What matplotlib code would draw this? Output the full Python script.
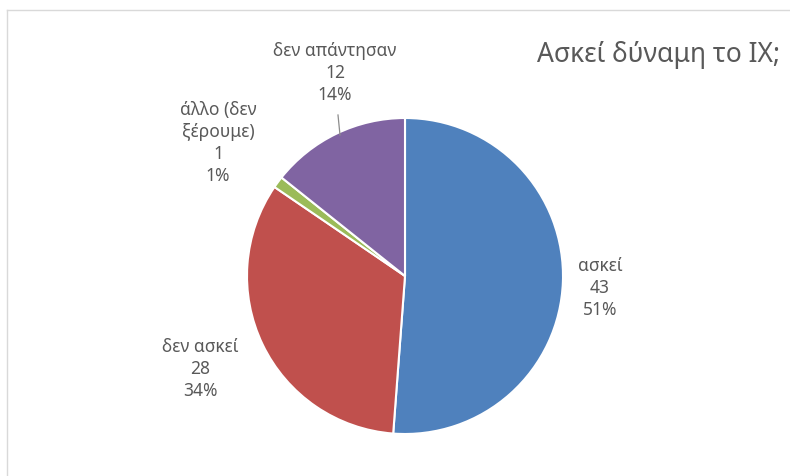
import matplotlib
matplotlib.use("Agg")
import matplotlib.pyplot as plt
from matplotlib.lines import Line2D

plt.rcParams['font.family'] = ['Noto Sans', 'DejaVu Sans']

# Data
categories = ["ασκεί", "δεν ασκεί", "άλλο (δεν\nξέρουμε)", "δεν απάντησαν"]
values = [43, 28, 1, 12]
percents = [51, 34, 1, 14]
colors = ["#4F81BD", "#C0504D", "#9BBB59", "#8064A2"]
title = "Ασκεί δύναμη το ΙΧ;"

W, H = 790, 477
fig = plt.figure(figsize=(W / 100, H / 100), dpi=100)
ax = fig.add_axes([0, 0, 1, 1])
ax.set_xlim(0, W)
ax.set_ylim(0, H)
ax.set_aspect('equal')
ax.axis('off')

cx, cy, r = 405, H - 277, 158
ax.pie(values, colors=colors, startangle=90, counterclock=False,
       center=(cx, cy), radius=r,
       wedgeprops=dict(edgecolor='white', linewidth=1.5))
ax.set_xlim(0, W)
ax.set_ylim(0, H)

label_pos = [(600, H - 288), (200, H - 369), (218, H - 143), (335, H - 73)]
text_color = "#595959"
for cat, v, pct, (x, y) in zip(categories, values, percents, label_pos):
    ax.text(x, y, f"{cat}\n{v}\n{pct}%", ha='center', va='center',
            fontsize=12.5, color=text_color, linespacing=1.28)

# leader line for the top label
ax.add_line(Line2D([338, 340], [H - 116, H - 136], color="#8c8c8c", lw=0.9))

fig.text(780 / W, 1 - 55 / H, title, ha='right', va='center',
         fontsize=19, color=text_color)

# chart area frame
fig.add_artist(Line2D([7 / W, 7 / W], [0, 1 - 11 / H], color="#d9d9d9",
                      lw=1, transform=fig.transFigure))
fig.add_artist(Line2D([7 / W, 1], [1 - 11 / H, 1 - 11 / H], color="#d9d9d9",
                      lw=1, transform=fig.transFigure))

fig.savefig("out.png", dpi=100, facecolor='white')
